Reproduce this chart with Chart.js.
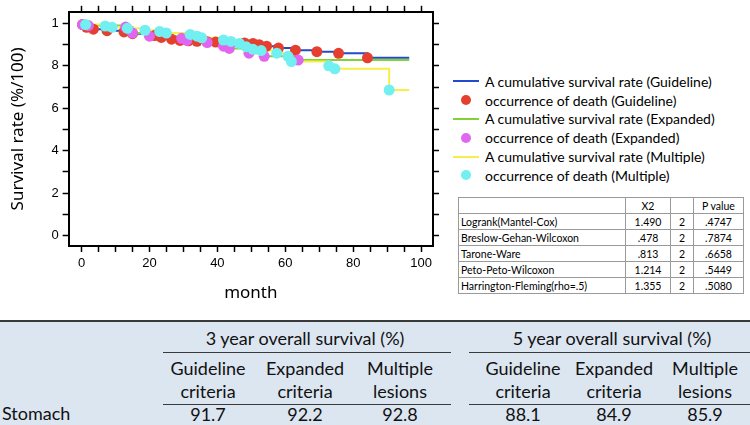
<!DOCTYPE html>
<html>
<head>
<meta charset="utf-8">
<script src="https://cdn.jsdelivr.net/npm/chart.js@4"></script>
<style>
  body { margin: 0; width: 750px; height: 425px; background: #fff; position: relative; overflow: hidden; font-family: Lato, sans-serif; }
  #chartBox { position: absolute; left: 0; top: 0; width: 445px; height: 312px; }
  #legend { position: absolute; left: 447px; top: 72px; font: 14px Lato, sans-serif; color: #000; }
  .lg-row { height: 18.8px; display: flex; align-items: center; }
  .lg-sym { width: 38px; display: flex; justify-content: center; align-items: center; }
  #stats { position: absolute; left: 458px; top: 197px; border-collapse: collapse; font: 10.5px Lato, sans-serif; color: #000; }
  #stats td { border: 1px solid #9a9a9a; height: 15px; padding: 0 2px; text-align: center; }
  #stats td.name { text-align: left; }
  #surv { position: absolute; left: 0; top: 320px; width: 750px; height: 103px; background: #dce6f1; border-top: 2px solid #3a3a3a; border-bottom: 2px solid #3a3a3a; font: 18px Lato, sans-serif; color: #111; }
  .t { position: absolute; transform: translate(-50%, -50%); white-space: nowrap; }
  .rule { position: absolute; height: 1px; background: #3a3a3a; }
</style>
</head>
<body>
<div id="chartBox"><canvas id="km"></canvas></div>
<div id="legend"></div>
<table id="stats"></table>
<div id="surv"></div>
<script>
// Kaplan-Meier deaths (month, survival)
const guidelineMonths = [0.3, 1.5, 3.5, 7.5, 12.5, 15, 21.5, 23.5, 26.5, 29, 31.5, 34, 37, 39.5, 44, 48, 50.5, 52.3, 54.5, 58, 63, 69.3, 75.7, 84.2]
const guidelineSurv = [0.995, 0.982, 0.973, 0.966, 0.96, 0.952, 0.943, 0.934, 0.926, 0.92, 0.918, 0.916, 0.914, 0.912, 0.91, 0.908, 0.906, 0.9, 0.893, 0.884, 0.874, 0.867, 0.859, 0.838]
const expandedMonths = [0.3, 2, 13, 15, 20, 29.5, 31, 37, 41.8, 43.5, 49.3, 53.8, 63.8]
const expandedSurv = [0.995, 0.99, 0.983, 0.955, 0.94, 0.93, 0.92, 0.91, 0.893, 0.882, 0.86, 0.845, 0.827]
const multipleMonths = [1.2, 7, 9, 13.5, 18.7, 23, 25, 32, 34, 35.4, 41.8, 44, 46.5, 48.5, 50.5, 52.9, 57.5, 60.8, 61.8, 72.8, 74.6, 90.6]
const multipleSurv = [0.995, 0.988, 0.982, 0.977, 0.968, 0.962, 0.955, 0.948, 0.94, 0.932, 0.922, 0.915, 0.906, 0.89, 0.878, 0.872, 0.86, 0.845, 0.82, 0.8, 0.786, 0.686]
const followUpEnd = [96.5, 96.5, 96.5]

// axis ticks
const xTickValues = [0, 5, 10, 15, 20, 25, 30, 35, 40, 45, 50, 55, 60, 65, 70, 75, 80, 85, 90, 95, 100]
const xLabelValues = [0, 20, 40, 60, 80, 100]
const xTickLabels = ['0', '20', '40', '60', '80', '100']
const yTickValues = [0, 0.1, 0.2, 0.3, 0.4, 0.5, 0.6, 0.7, 0.8, 0.9, 1]
const yLabelValues = [0, 0.2, 0.4, 0.6, 0.8, 1]
const yTickLabels = ['0', '2', '4', '6', '8', '1']

// log-rank style tests
const testNames = ['Logrank(Mantel-Cox)', 'Breslow-Gehan-Wilcoxon', 'Tarone-Ware', 'Peto-Peto-Wilcoxon', 'Harrington-Fleming(rho=.5)']
const chiSquare = ['1.490', '.478', '.813', '1.214', '1.355']
const degFree = ['2', '2', '2', '2', '2']
const pValues = ['.4747', '.7874', '.6658', '.5449', '.5080']

// overall survival table
const groupLabels = [['Guideline', 'criteria'], ['Expanded', 'criteria'], ['Multiple', 'lesions']]
const organ = 'Stomach'
const threeYear = ['91.7', '92.2', '92.8']
const fiveYear = ['88.1', '84.9', '85.9']

const toPoints = (xs, ys) => xs.map((x, i) => ({ x: x, y: ys[i] }))
const kmCurve = (xs, ys, end) => [{ x: 0, y: 1 }].concat(toPoints(xs, ys), [{ x: end, y: ys[ys.length - 1] }])

const lineSet = (label, data, color, order) => ({
  label, data, borderColor: color, backgroundColor: color, borderWidth: 2,
  stepped: true, pointRadius: 0, showLine: true, order
})
const dotSet = (label, data, color, order) => ({
  label, data, borderColor: color, backgroundColor: color, borderWidth: 0,
  pointRadius: 5.5, showLine: false, order
})

const datasets = [
  lineSet('A cumulative survival rate (Guideline)', kmCurve(guidelineMonths, guidelineSurv, followUpEnd[0]), '#2449cc', 6),
  dotSet('occurrence of death (Guideline)', toPoints(guidelineMonths, guidelineSurv), '#e5402f', 3),
  lineSet('A cumulative survival rate (Expanded)', kmCurve(expandedMonths, expandedSurv, followUpEnd[1]), '#7fd334', 5),
  dotSet('occurrence of death (Expanded)', toPoints(expandedMonths, expandedSurv), '#e066f0', 2),
  lineSet('A cumulative survival rate (Multiple)', kmCurve(multipleMonths, multipleSurv, followUpEnd[2]), '#f7ef48', 4),
  dotSet('occurrence of death (Multiple)', toPoints(multipleMonths, multipleSurv), '#72eff0', 1)
]

const tickFont = { family: 'Liberation Sans', size: 13 }
const titleFont = { family: 'Noto Sans', size: 17 }
const gridOpts = { drawOnChartArea: false, tickLength: 6, tickColor: '#000', tickWidth: 1.5 }
const borderOpts = { color: '#000', width: 2 }

const ctx = document.getElementById('km').getContext('2d')

const config = {
  type: 'scatter',
  data: { datasets },
  options: {
    responsive: true,
    maintainAspectRatio: false,
    animation: false,
    layout: { padding: { top: 1, right: 6, bottom: 5, left: 7 } },
    plugins: { legend: { display: false }, tooltip: { enabled: false } },
    scales: {
      x: {
        type: 'linear', position: 'bottom', min: -3.8, max: 103.5,
        afterBuildTicks: (axis) => { axis.ticks = xTickValues.map(v => ({ value: v })) },
        ticks: {
          autoSkip: false, maxRotation: 0, color: '#000', font: tickFont, padding: 4,
          callback: (v) => { const i = xLabelValues.indexOf(v); return i >= 0 ? xTickLabels[i] : '' }
        },
        grid: gridOpts, border: borderOpts,
        title: { display: true, text: 'month', color: '#000', font: titleFont, padding: { top: 7, bottom: 4 } }
      },
      x2: {
        type: 'linear', position: 'top', min: -3.8, max: 103.5,
        afterBuildTicks: (axis) => { axis.ticks = xTickValues.map(v => ({ value: v })) },
        ticks: { display: false },
        grid: gridOpts, border: borderOpts
      },
      y: {
        type: 'linear', position: 'left', min: -0.05, max: 1.055,
        afterBuildTicks: (axis) => { axis.ticks = yTickValues.map(v => ({ value: v })) },
        ticks: {
          autoSkip: false, color: '#000', font: tickFont, padding: 4,
          callback: (v) => { const i = yLabelValues.indexOf(v); return i >= 0 ? yTickLabels[i] : '' }
        },
        grid: gridOpts, border: borderOpts,
        title: { display: true, text: 'Survival rate (%/100)', color: '#000', font: titleFont, padding: { top: 1, bottom: 19 } }
      },
      y2: {
        type: 'linear', position: 'right', min: -0.05, max: 1.055,
        afterBuildTicks: (axis) => { axis.ticks = yTickValues.map(v => ({ value: v })) },
        ticks: { display: false },
        grid: gridOpts, border: borderOpts
      }
    }
  }
}

const kmChart = new Chart(ctx, config)

// legend built from the chart's datasets
const legend = document.getElementById('legend')
kmChart.data.datasets.forEach(ds => {
  const row = document.createElement('div')
  row.className = 'lg-row'
  const sym = ds.showLine
    ? `<span style="display:block;width:26px;height:2px;background:${ds.borderColor}"></span>`
    : `<span style="display:block;width:10px;height:10px;border-radius:50%;background:${ds.backgroundColor}"></span>`
  row.innerHTML = `<span class="lg-sym">${sym}</span><span>${ds.label}</span>`
  legend.appendChild(row)
})

// test statistics table
const stats = document.getElementById('stats')
let rows = `<tr><td class="name" style="width:162px"></td><td style="width:40px">X2</td><td style="width:18px"></td><td style="width:45px">P value</td></tr>`
testNames.forEach((n, i) => {
  rows += `<tr><td class="name">${n}</td><td>${chiSquare[i]}</td><td>${degFree[i]}</td><td>${pValues[i]}</td></tr>`
})
stats.innerHTML = rows

// overall survival table
const surv = document.getElementById('surv')
const col3 = [208, 305, 400]
const col5 = [523, 614, 705]
let html = ''
html += `<div class="t" style="left:305px;top:16px">3 year overall survival (%)</div>`
html += `<div class="t" style="left:612px;top:16px">5 year overall survival (%)</div>`
html += `<div class="rule" style="left:163px;width:288px;top:30px"></div>`
html += `<div class="rule" style="left:469px;width:281px;top:30px"></div>`
groupLabels.forEach((g, i) => {
  ;[col3[i], col5[i]].forEach(cx => {
    html += `<div class="t" style="left:${cx}px;top:46px">${g[0]}</div>`
    html += `<div class="t" style="left:${cx}px;top:69px">${g[1]}</div>`
  })
})
html += `<div class="rule" style="left:163px;width:288px;top:82px"></div>`
html += `<div class="rule" style="left:469px;width:281px;top:82px"></div>`
html += `<div style="position:absolute;left:2px;top:80px">${organ}</div>`
threeYear.forEach((v, i) => { html += `<div class="t" style="left:${col3[i]}px;top:92px">${v}</div>` })
fiveYear.forEach((v, i) => { html += `<div class="t" style="left:${col5[i]}px;top:92px">${v}</div>` })
surv.innerHTML = html
</script>
</body>
</html>
